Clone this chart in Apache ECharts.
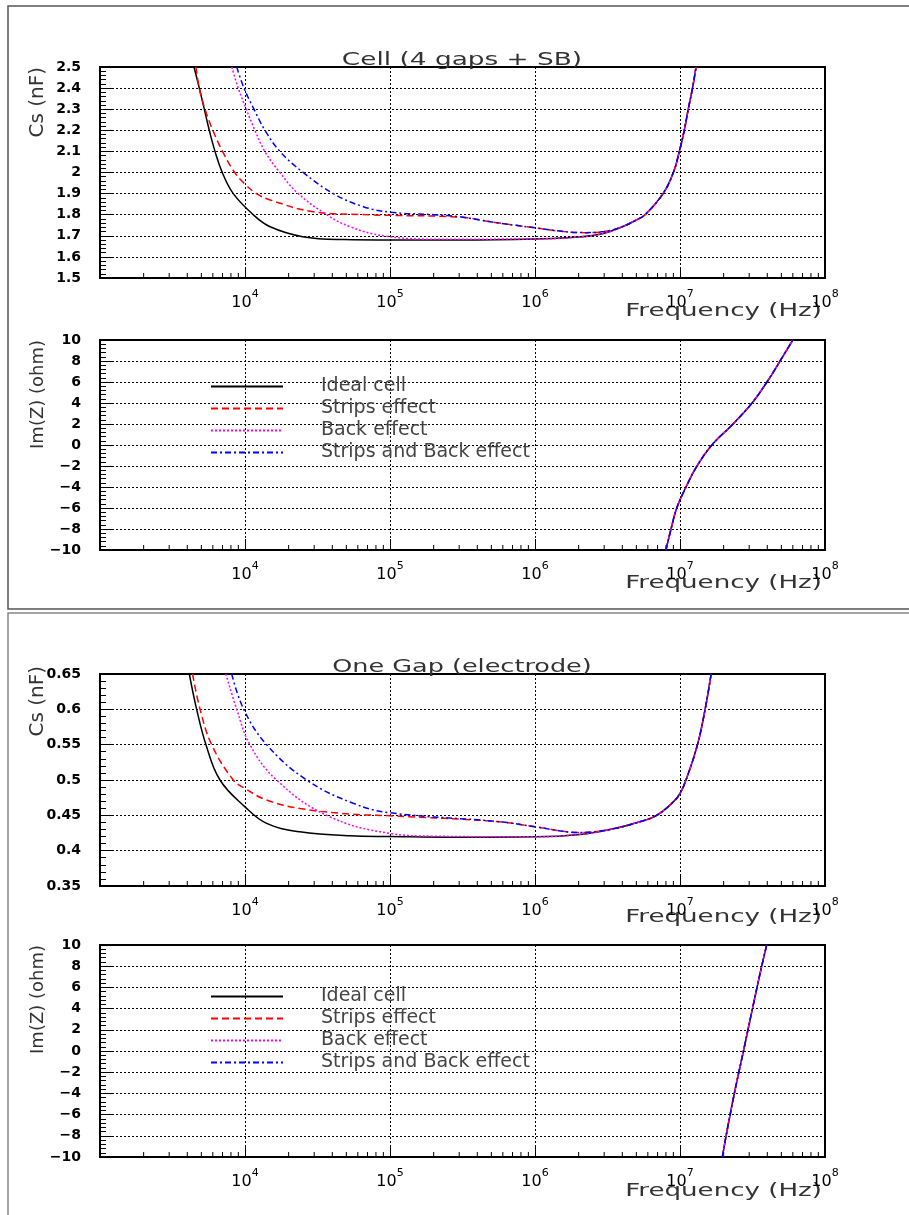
<!DOCTYPE html>
<html lang="en">
<head>
  <meta charset="UTF-8">
  <title>Cs and Im(Z) vs frequency</title>
  <style>html,body{margin:0;padding:0;background:#fff;}</style>
</head>
<body>
  <div id="main" style="width:909px;height:1215px;"></div>

  <script src="https://cdn.jsdelivr.net/npm/echarts@6/dist/echarts.min.js"></script>
  <script>
    // ---- values ----
    const names = ['Ideal cell', 'Strips effect', 'Back effect', 'Strips and Back effect'];

    // Cell (4 gaps + SB) : Cs (nF)
    const cellIdealF  = [4.45e3, 4.84e3, 5.24e3, 5.67e3, 6.21e3, 6.97e3, 8.3e3, 1.14e4, 1.49e4, 2.5e4, 4.8e4, 1e5, 3e5, 1e6, 2e6, 3e6];
    const cellIdealCs = [2.5, 2.4, 2.3, 2.2, 2.1, 2.0, 1.9, 1.8, 1.743, 1.696, 1.682, 1.68, 1.68, 1.685, 1.694, 1.712];
    const cellStripsF  = [4.59e3, 4.84e3, 5.3e3, 6.0e3, 7.0e3, 8.5e3, 1e4, 1.2e4, 1.49e4, 2.95e4, 7.3e4, 1e5, 3.04e5, 5.44e5, 1e6, 1.58e6, 2.2e6, 3e6];
    const cellStripsCs = [2.5, 2.4, 2.3, 2.2, 2.1, 2.0, 1.945, 1.9, 1.87, 1.814, 1.799, 1.797, 1.788, 1.762, 1.738, 1.72, 1.715, 1.72];
    const cellBackF  = [8.1e3, 8.98e3, 1.02e4, 1.17e4, 1.37e4, 1.74e4, 2.33e4, 3.66e4, 5.3e4, 9e4, 2e5, 1e6, 2e6, 3e6];
    const cellBackCs = [2.5, 2.4, 2.3, 2.2, 2.1, 2.0, 1.9, 1.8, 1.743, 1.70, 1.684, 1.685, 1.694, 1.712];
    const cellBothF  = [8.77e3, 9.84e3, 1.153e4, 1.374e4, 1.74e4, 2.52e4, 4.07e4, 6.55e4, 1e5, 2e5, 3.04e5, 5.44e5, 1e6, 1.58e6, 2.2e6, 3e6];
    const cellBothCs = [2.5, 2.4, 2.3, 2.2, 2.1, 2.0, 1.9, 1.838, 1.812, 1.8, 1.79, 1.762, 1.738, 1.72, 1.715, 1.72];
    // all four curves coincide above ~4 MHz
    const cellTailF  = [4e6, 5e6, 5.74e6, 7.64e6, 9e6, 9.9e6, 1.07e7, 1.14e7, 1.22e7, 1.29e7];
    const cellTailCs = [1.743, 1.775, 1.8, 1.9, 2.0, 2.1, 2.2, 2.3, 2.4, 2.5];

    // Cell : Im(Z) (ohm), same for all four
    const cellImF = [8.0e6, 8.67e6, 9.5e6, 1.1e7, 1.31e7, 1.66e7, 2.32e7, 3.14e7, 3.98e7, 4.9e7, 6.0e7];
    const cellImZ = [-10, -8, -6, -4, -2, 0, 2, 4, 6, 8, 10];

    // One Gap (electrode) : Cs (nF)
    const gapIdealF  = [4.13e3, 4.64e3, 5.38e3, 6.72e3, 1e4, 1.41e4, 2.39e4, 5.3e4, 1e5, 3e5, 1e6, 2.04e6];
    const gapIdealCs = [0.65, 0.6, 0.55, 0.5, 0.462, 0.4386, 0.4267, 0.421, 0.42, 0.419, 0.4196, 0.423];
    const gapStripsF  = [4.35e3, 4.9e3, 5.89e3, 8.3e3, 1e4, 1.41e4, 2.39e4, 5.3e4, 1e5, 5.7e5, 1e6, 2.04e6];
    const gapStripsCs = [0.65, 0.6, 0.55, 0.5, 0.488, 0.4716, 0.4598, 0.4518, 0.4494, 0.441, 0.4338, 0.4258];
    const gapBackF  = [7.38e3, 8.77e3, 1.08e4, 1.65e4, 3.66e4, 1e5, 2e5, 1e6, 2.04e6];
    const gapBackCs = [0.65, 0.6, 0.55, 0.5, 0.45, 0.4244, 0.4205, 0.4196, 0.423];
    const gapBothF  = [8.1e3, 9.8e3, 1.41e4, 2.66e4, 5.58e4, 1e5, 5.7e5, 1e6, 2.04e6];
    const gapBothCs = [0.65, 0.6, 0.55, 0.5, 0.467, 0.4536, 0.441, 0.4338, 0.4258];
    const gapTailF  = [3.29e6, 5.3e6, 6.9e6, 9e6, 1e7, 1.1e7, 1.32e7, 1.49e7, 1.64e7];
    const gapTailCs = [0.43, 0.441, 0.45, 0.469, 0.481, 0.5, 0.55, 0.6, 0.65];

    // One Gap : Im(Z) (ohm)
    const gapImF = [1.96e7, 2.08e7, 2.37e7, 2.74e7, 3.16e7, 3.66e7, 3.96e7];
    const gapImZ = [-10, -8, -4, 0, 4, 8, 10];

    // y ranges of the four pads
    const yRanges = [[1.5, 2.5, 0.1], [-10, 10, 2], [0.35, 0.65, 0.05], [-10, 10, 2]];
    // minor log ticks 2..9 in each decade
    const minorMult = [2, 3, 4, 5, 6, 7, 8, 9];
    const decades = [1e3, 1e4, 1e5, 1e6, 1e7];

    // ---- chart ----
    const myChart = echarts.init(document.getElementById('main'));
    const pts = (f, v) => f.map((x, i) => [x, v[i]]);
    const FONT = 'DejaVu Sans';
    const lineStyles = [
      { color: '#000000', width: 1.5, type: 'solid' },
      { color: '#ff0000', width: 1.5, type: [7, 4] },
      { color: '#ff00ff', width: 1.5, type: [2, 2] },
      { color: '#0000ff', width: 1.5, type: [6, 3, 2, 3] }
    ];
    const gridTops = [67, 340, 674, 945];
    const gridHeights = [211, 210, 212, 212];

    const grids = gridTops.map((t, i) => ({
      left: 100, top: t, width: 725, height: gridHeights[i],
      show: true, borderColor: '#000', borderWidth: 2
    }));

    const xAxes = gridTops.map((t, i) => ({
      type: 'log', logBase: 10, gridIndex: i, min: 1e3, max: 1e8, interval: 1,
      axisLine: { onZero: false, lineStyle: { color: '#000', width: 2 } },
      axisTick: { inside: true, length: 11, lineStyle: { color: '#000' } },
      axisLabel: {
        margin: 11,
        formatter: v => {
          const e = Math.round(Math.log10(v));
          return e === 3 ? '' : '{b|10}{s|' + e + '}';
        },
        rich: {
          b: { fontSize: 16, fontFamily: FONT, color: '#000', verticalAlign: 'bottom', lineHeight: 22 },
          s: { fontSize: 11, fontFamily: FONT, color: '#000', verticalAlign: 'top', lineHeight: 22 }
        }
      },
      splitLine: { show: true, lineStyle: { color: '#000', width: 1, type: [2, 2] } }
    }));

    const yAxes = yRanges.map((r, i) => ({
      type: 'value', gridIndex: i, min: r[0], max: r[1], interval: r[2],
      axisLine: { show: true, onZero: false, lineStyle: { color: '#000', width: 2 } },
      axisTick: { show: true, inside: true, length: 13, lineStyle: { color: '#000' } },
      minorTick: { show: true, splitNumber: 5, length: 6, lineStyle: { color: '#000' } },
      axisLabel: {
        margin: 19, color: '#000', fontSize: 14, fontWeight: 'bold', fontFamily: FONT,
        formatter: v => String(v).replace('-', '\u2212')
      },
      splitLine: { show: true, lineStyle: { color: '#000', width: 1, type: [2, 2] } }
    }));

    const curve = (grid, k, f, v) => ({
      name: names[k], type: 'line', xAxisIndex: grid, yAxisIndex: grid,
      data: pts(f, v), symbol: 'none', smooth: 0.4,
      lineStyle: lineStyles[k], itemStyle: { color: lineStyles[k].color }
    });

    const minorTicks = (grid) => ({
      type: 'custom', xAxisIndex: grid, yAxisIndex: grid, silent: true,
      data: decades.flatMap(d => minorMult.map(m => [m * d, yRanges[grid][0]])),
      renderItem: (params, api) => {
        const p = api.coord([api.value(0), api.value(1)]);
        return { type: 'line', shape: { x1: p[0], y1: p[1], x2: p[0], y2: p[1] - 5 },
                 style: { stroke: '#000', lineWidth: 1 } };
      }
    });

    const series = [
      curve(0, 0, cellIdealF.concat(cellTailF), cellIdealCs.concat(cellTailCs)),
      curve(0, 1, cellStripsF.concat(cellTailF), cellStripsCs.concat(cellTailCs)),
      curve(0, 2, cellBackF.concat(cellTailF), cellBackCs.concat(cellTailCs)),
      curve(0, 3, cellBothF.concat(cellTailF), cellBothCs.concat(cellTailCs)),
      curve(1, 0, cellImF, cellImZ), curve(1, 1, cellImF, cellImZ),
      curve(1, 2, cellImF, cellImZ), curve(1, 3, cellImF, cellImZ),
      curve(2, 0, gapIdealF.concat(gapTailF), gapIdealCs.concat(gapTailCs)),
      curve(2, 1, gapStripsF.concat(gapTailF), gapStripsCs.concat(gapTailCs)),
      curve(2, 2, gapBackF.concat(gapTailF), gapBackCs.concat(gapTailCs)),
      curve(2, 3, gapBothF.concat(gapTailF), gapBothCs.concat(gapTailCs)),
      curve(3, 0, gapImF, gapImZ), curve(3, 1, gapImF, gapImZ),
      curve(3, 2, gapImF, gapImZ), curve(3, 3, gapImF, gapImZ),
      minorTicks(0), minorTicks(1), minorTicks(2), minorTicks(3)
    ];

    const legendBox = top => ({
      left: 210, top: top, orient: 'vertical', selectedMode: false, padding: 0,
      itemWidth: 72, itemHeight: 10, itemGap: 3, data: names,
      itemStyle: { opacity: 0 },
      textStyle: { fontSize: 19, lineHeight: 18, color: '#444', fontFamily: FONT, padding: [0, 0, 0, 33] }
    });

    // stretched thin text, like the original plot's font
    const wideText = (text, x, y, align, vAlign, size, sx) => ({
      type: 'text', x: x, y: y, scaleX: sx,
      style: { text: text, fontSize: size, fontFamily: FONT, fill: '#333', align: align, verticalAlign: vAlign }
    });
    const yTitle = (text, y, size) => ({
      type: 'text', x: 38, y: y, rotation: Math.PI / 2,
      style: { text: text, fontSize: size, fontFamily: FONT, fill: '#333', align: 'right', verticalAlign: 'middle' }
    });

    const options = {
      animation: false,
      backgroundColor: '#fff',
      legend: [legendBox(377), legendBox(987)],
      grid: grids,
      xAxis: xAxes,
      yAxis: yAxes,
      series: series,
      graphic: [
        { type: 'rect', shape: { x: 8, y: 6, width: 920, height: 603 }, style: { fill: 'none', stroke: '#555', lineWidth: 1.5 } },
        { type: 'rect', shape: { x: 8, y: 613, width: 920, height: 620 }, style: { fill: 'none', stroke: '#888', lineWidth: 1.5 } },
        wideText('Cell (4 gaps + SB)', 462, 69, 'center', 'bottom', 17, 1.55),
        wideText('One Gap (electrode)', 462, 676, 'center', 'bottom', 17, 1.5),
        yTitle('Cs (nF)', 67, 20), yTitle('Im(Z) (ohm)', 340, 18),
        yTitle('Cs (nF)', 666, 20), yTitle('Im(Z) (ohm)', 945, 18),
        wideText('Frequency (Hz)', 822, 311, 'right', 'middle', 18, 1.45),
        wideText('Frequency (Hz)', 822, 583, 'right', 'middle', 18, 1.45),
        wideText('Frequency (Hz)', 822, 917, 'right', 'middle', 18, 1.45),
        wideText('Frequency (Hz)', 822, 1191, 'right', 'middle', 18, 1.45)
      ]
    };

    myChart.setOption(options);
  </script>
</body>
</html>
